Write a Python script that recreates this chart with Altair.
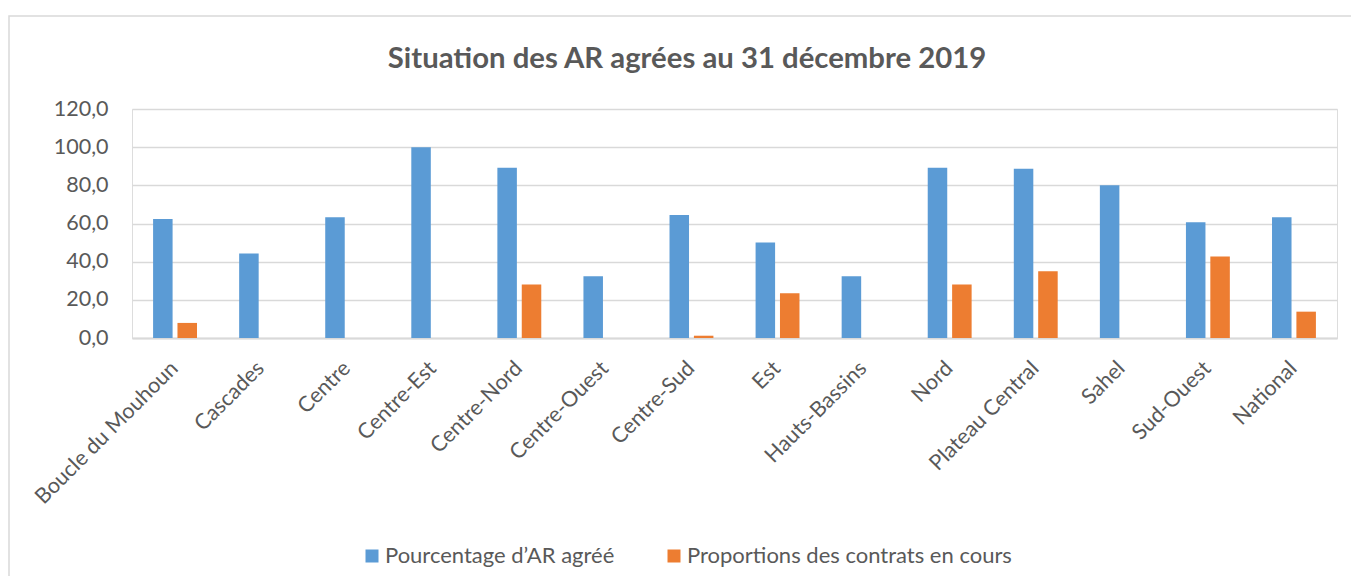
import altair as alt
import pandas as pd

categories = ["Boucle du Mouhoun", "Cascades", "Centre", "Centre-Est", "Centre-Nord",
              "Centre-Ouest", "Centre-Sud", "Est", "Hauts-Bassins", "Nord",
              "Plateau Central", "Sahel", "Sud-Ouest", "National"]
pct_ar_agree = [62.4, 44.3, 63.3, 100.0, 89.2, 32.4, 64.4, 50.0, 32.4, 89.2, 88.7, 80.0, 60.7, 63.3]
prop_contrats = [7.9, None, None, None, 28.0, None, 1.2, 23.4, None, 28.0, 35.0, None, 42.7, 13.8]
series_names = ["Pourcentage d\u2019AR agréé", "Proportions des contrats en cours"]
series_colors = ["#5B9BD5", "#ED7D31"]
y_ticks = [0, 20, 40, 60, 80, 100, 120]
title_text = "Situation des AR agrées au 31 décembre 2019"

rows = []
for c, a, b in zip(categories, pct_ar_agree, prop_contrats):
    if a is not None:
        rows.append({"region": c, "serie": series_names[0], "valeur": a})
    if b is not None:
        rows.append({"region": c, "serie": series_names[1], "valeur": b})
df = pd.DataFrame(rows)

FONT = "Lato"
TXT = "#595959"
GRID = "#D9D9D9"

W, H = 1205, 229

bars = alt.Chart(df).mark_bar(strokeWidth=0).encode(
    x=alt.X("region:N", sort=categories, title=None,
            scale=alt.Scale(paddingInner=0.49, paddingOuter=0.245),
            axis=alt.Axis(labelAngle=-45, labelAlign="right", labelBaseline="middle",
                          labelPadding=27, ticks=False, domainColor=GRID, domainWidth=2,
                          labelFontSize=21.5, labelColor=TXT, labelFont=FONT, grid=False,
                          labelLimit=0)),
    xOffset=alt.XOffset("serie:N", sort=series_names,
                        scale=alt.Scale(paddingInner=0.2, paddingOuter=0)),
    y=alt.Y("valeur:Q", title=None,
            scale=alt.Scale(domain=[0, 120], nice=False),
            axis=alt.Axis(values=y_ticks, ticks=False, domain=False, labelPadding=24,
                          labelExpr="replace(format(datum.value, '.1f'), '.', ',')",
                          labelFontSize=21.5, labelColor=TXT, labelFont=FONT,
                          gridColor=GRID, gridWidth=1.5)),
    color=alt.Color("serie:N", sort=series_names,
                    scale=alt.Scale(domain=series_names, range=series_colors),
                    legend=alt.Legend(title=None, orient="none", direction="horizontal",
                                      legendX=229, legendY=436,
                                      symbolType="square", symbolSize=169,
                                      symbolStrokeWidth=0, labelFontSize=22,
                                      labelColor=TXT, labelFont=FONT, labelOffset=2,
                                      labelLimit=0, columnPadding=48)),
)

frame = alt.Chart(alt.Data(values=[{"k": 1}])).mark_rect(
    fill=None, stroke=GRID, strokeWidth=1.5
).encode(
    x=alt.value(-123), x2=alt.value(W + 40),
    y=alt.value(-93), y2=alt.value(H + 320),
)

title = alt.Chart(alt.Data(values=[{"t": title_text}])).mark_text(
    font=FONT, fontSize=29.3, fontWeight="bold", color=TXT,
    align="center", baseline="alphabetic"
).encode(
    text="t:N", x=alt.value(555), y=alt.value(-41),
)

chart = alt.layer(frame, title, bars).properties(
    width=W, height=H,
    padding={"left": 124, "top": 101, "right": 14, "bottom": 238},
    autosize=alt.AutoSizeParams(type="none"),
).configure_view(stroke=None).configure(background="white")

chart.save("out.html", embed_options={"renderer": "svg", "actions": False})
